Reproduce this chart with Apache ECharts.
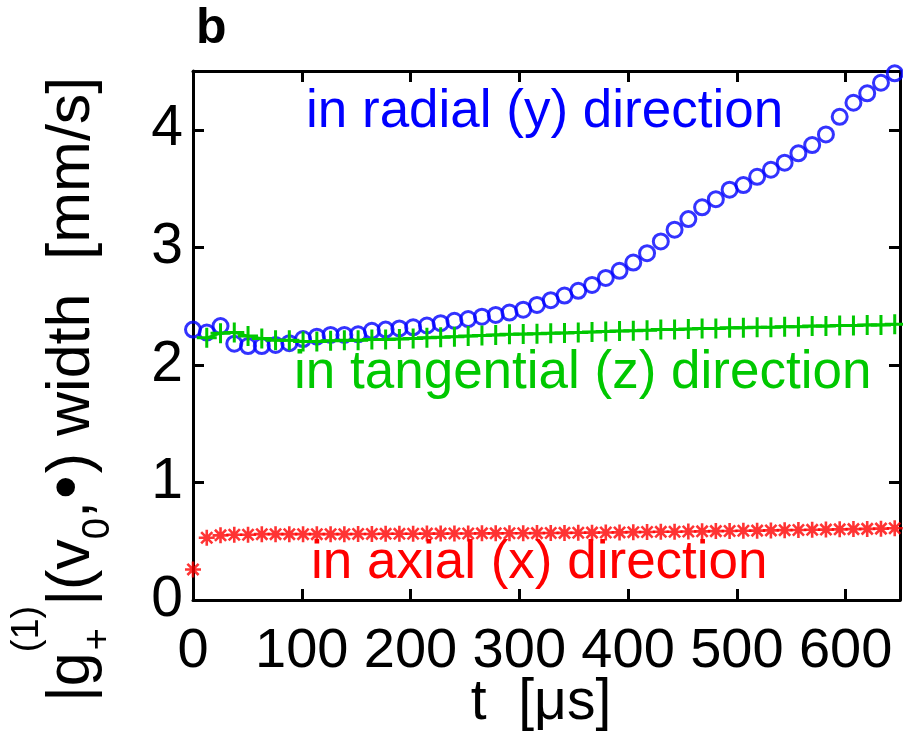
<!DOCTYPE html>
<html>
<head>
<meta charset="utf-8">
<script src="https://cdn.jsdelivr.net/npm/echarts@6/dist/echarts.min.js"></script>
<style>
  html, body { margin: 0; padding: 0; background: #fff; }
  #chart { width: 903px; height: 747px; }
</style>
</head>
<body>
<div id="chart"></div>
<script>
// Time of each sample, in microseconds
const times = [0, 12.65, 25.3, 37.95, 50.6, 63.25, 75.9, 88.55, 101.2, 113.85, 126.5, 139.15,
  151.8, 164.45, 177.1, 189.75, 202.4, 215.05, 227.7, 240.35, 253, 265.65, 278.3, 290.95,
  303.6, 316.25, 328.9, 341.55, 354.2, 366.85, 379.5, 392.15, 404.8, 417.45, 430.1, 442.75,
  455.4, 468.05, 480.7, 493.35, 506, 518.65, 531.3, 543.95, 556.6, 569.25, 581.9, 594.55,
  607.2, 619.85, 632.5, 645.15];

// Velocity-distribution width along each direction, mm/s
const radialWidth = [2.30, 2.275, 2.33, 2.18, 2.16, 2.16, 2.17, 2.185, 2.22, 2.24, 2.255, 2.255,
  2.26, 2.29, 2.30, 2.31, 2.32, 2.335, 2.355, 2.375, 2.39, 2.41, 2.425, 2.445,
  2.47, 2.51, 2.55, 2.59, 2.63, 2.68, 2.74, 2.80, 2.87, 2.95, 3.05, 3.15,
  3.24, 3.34, 3.41, 3.49, 3.53, 3.60, 3.66, 3.72, 3.80, 3.87, 3.96, 4.11,
  4.23, 4.31, 4.40, 4.48];

const tangentialWidth = [null, 2.23, 2.27, 2.275, 2.245, 2.225, 2.21, 2.21, 2.20, 2.20, 2.205, 2.21,
  2.21, 2.215, 2.215, 2.22, 2.225, 2.23, 2.235, 2.24, 2.245, 2.25, 2.255, 2.26,
  2.262, 2.265, 2.27, 2.272, 2.275, 2.28, 2.285, 2.288, 2.29, 2.295, 2.30, 2.30,
  2.305, 2.31, 2.31, 2.315, 2.315, 2.32, 2.32, 2.325, 2.325, 2.33, 2.33, 2.335,
  2.335, 2.34, 2.34, 2.345];

const axialWidth = [0.26, 0.53, 0.55, 0.555, 0.555, 0.56, 0.56, 0.56, 0.56, 0.56, 0.56, 0.56,
  0.562, 0.562, 0.563, 0.563, 0.564, 0.565, 0.565, 0.566, 0.566, 0.567, 0.567, 0.568,
  0.568, 0.569, 0.57, 0.571, 0.572, 0.573, 0.574, 0.575, 0.577, 0.578, 0.58, 0.581,
  0.583, 0.584, 0.586, 0.587, 0.589, 0.59, 0.592, 0.594, 0.595, 0.597, 0.599, 0.601,
  0.603, 0.605, 0.607, 0.61];

const xTicks = [0, 100, 200, 300, 400, 500, 600];
const yTicks = [0, 1, 2, 3, 4];

const BLUE = '#0000ff';
const GREEN = '#00c800';
const RED = '#ff0000';
const FONT = '"Liberation Sans", Arial, Helvetica, sans-serif';
const NARROW = '"Liberation Sans Narrow", "Arial Narrow", "Liberation Sans", Arial, sans-serif';

const PLUS = 'path://M0,5L10,5M5,0L5,10';
const ASTERISK = 'path://M0,5L10,5M5,0L5,10M1.5,1.5L8.5,8.5M1.5,8.5L8.5,1.5';

const pairs = vals => times.map((t, i) => [t, vals[i]]);

// zrender draws text with a 'middle' baseline; shift so y is the alphabetic baseline
const MID = 0.3465;
const midY = (baseline, size) => baseline - MID * size;

const measureCtx = document.createElement('canvas').getContext('2d');
function textWidth(s, size, weight) {
  measureCtx.font = (weight || 'normal') + ' ' + size + 'px ' + FONT;
  return measureCtx.measureText(s).width;
}

// Rotated y-axis title: |g_+^(1)|(v_0, •) width  [mm/s]
function yTitle() {
  const F = 61, f = 38, BF = 68;
  const supBase = -52, subBase = 19;
  const kids = [];
  let x = 0;
  const add = (text, size, base, dx) => {
    kids.push({ type: 'text', x: x + (dx || 0), y: midY(base, size),
      style: { text, fontSize: size, fontFamily: FONT, fill: '#000', align: 'left', verticalAlign: 'middle' } });
  };
  add('|g', F, 0); x += textWidth('|g', F);
  add('(1)', f, supBase); add('+', f, subBase, 2); x += textWidth('(1)', f);
  add('|(v', F, 0); x += textWidth('|(v', F);
  add('0', f, subBase); x += textWidth('0', f);
  add(',', F, 0); x += textWidth(',', F) + 2;
  add('\u2022', BF, 0); x += textWidth('\u2022', BF) + 2;
  add(') width  [mm/s]', F, 0);
  return { type: 'group', x: 93, y: 702, rotation: Math.PI / 2, children: kids };
}

function label(text, x, baseline, size, color, weight, align) {
  return { type: 'text', x, y: midY(baseline, size),
    style: { text, fontSize: size, fontFamily: FONT, fontWeight: weight || 'normal', fill: color,
      align: align || 'left', verticalAlign: 'middle' } };
}

const axisLine = { show: true, onZero: false, lineStyle: { color: '#000', width: 3 } };
const tickIn = vals => ({ show: true, inside: true, length: 11, lineStyle: { color: '#000', width: 3 }, customValues: vals });

const chart = echarts.init(document.getElementById('chart'), null, { renderer: 'canvas' });
chart.setOption({
  animation: false,
  backgroundColor: '#fff',
  grid: { left: 193, right: 3, top: 71, bottom: 147, containLabel: false },
  xAxis: [
    { type: 'value', position: 'bottom', min: 0, max: 650, interval: 100,
      axisLine, axisTick: tickIn(xTicks), splitLine: { show: false },
      axisLabel: { customValues: xTicks, fontSize: 56, fontFamily: NARROW, color: '#000', margin: 24 } },
    { type: 'value', position: 'top', min: 0, max: 650, interval: 100,
      axisLine, axisTick: tickIn(xTicks), splitLine: { show: false }, axisLabel: { show: false } }
  ],
  yAxis: [
    { type: 'value', position: 'left', min: 0, max: 4.5, interval: 1,
      axisLine, axisTick: tickIn(yTicks), splitLine: { show: false },
      axisLabel: { customValues: yTicks, fontSize: 57, fontFamily: FONT, color: '#000', margin: 10 } },
    { type: 'value', position: 'right', min: 0, max: 4.5, interval: 1,
      axisLine, axisTick: tickIn(yTicks), splitLine: { show: false }, axisLabel: { show: false } }
  ],
  series: [
    { name: 'radial', type: 'scatter', data: pairs(radialWidth), clip: false,
      symbol: 'circle', symbolSize: 15,
      itemStyle: { color: 'rgba(0,0,0,0)', borderColor: BLUE, borderWidth: 3 }, z: 3 },
    { name: 'tangential', type: 'line', data: pairs(tangentialWidth), clip: false,
      symbol: PLUS, symbolSize: 20, showAllSymbol: true,
      lineStyle: { color: GREEN, width: 2.6 },
      itemStyle: { color: GREEN, borderColor: GREEN, borderWidth: 3 }, z: 4 },
    { name: 'axial', type: 'scatter', data: pairs(axialWidth), clip: false,
      symbol: ASTERISK, symbolSize: 16,
      itemStyle: { color: RED, borderColor: RED, borderWidth: 2.6 }, z: 5 }
  ],
  graphic: [
    label('b', 196, 46.5, 50, '#000', 'bold'),
    label('in radial (y) direction', 306, 131, 53, BLUE),
    label('in tangential (z) direction', 294, 392, 53, GREEN),
    label('in axial (x) direction', 311, 582, 53, RED),
    label('t  [\u03bcs]', 541, 723, 57, '#000', 'normal', 'center'),
    yTitle()
  ]
});
</script>
</body>
</html>
